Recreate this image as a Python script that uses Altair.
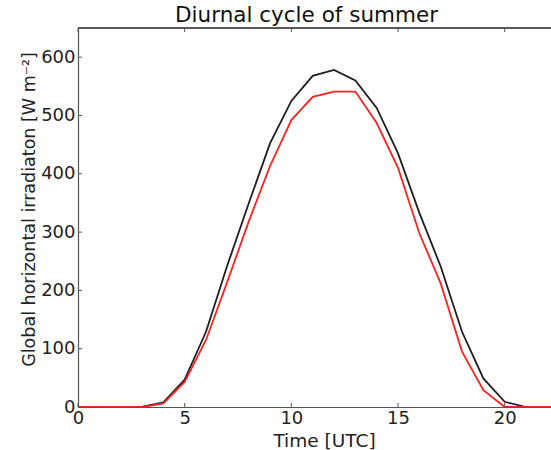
import altair as alt
import pandas as pd

# Hourly mean global horizontal irradiance for the summer diurnal cycle
hours = list(range(24))
series_a = [0, 0, 0, 0, 8, 47, 129, 243, 349, 452, 525, 568, 578, 560, 513, 435, 333, 241, 129, 49, 9, 0, 0, 0]
series_b = [0, 0, 0, 0, 6, 43, 115, 215, 318, 413, 492, 532, 541, 541, 487, 410, 298, 212, 95, 29, 0, 0, 0, 0]
series_names = ["a", "b"]
series_colors = ["#1e1e1e", "#ff2020"]

x_ticks = [0, 5, 10, 15, 20]
y_ticks = [0, 100, 200, 300, 400, 500, 600]

W, H = 473, 379
FONT = "DejaVu Sans"

df = pd.DataFrame({
    "hour": hours * 2,
    "ghi": series_a + series_b,
    "series": [series_names[0]] * len(hours) + [series_names[1]] * len(hours),
})

xscale = alt.Scale(domain=[0, 22.17], nice=False, zero=False)
yscale = alt.Scale(domain=[0, 650], nice=False)

lines = alt.Chart(df).mark_line(strokeWidth=1.8, clip=True).encode(
    x=alt.X("hour:Q", scale=xscale, axis=alt.Axis(
        values=x_ticks, ticks=False, grid=False, domainColor="#555", domainWidth=1.2,
        labelFont=FONT, labelFontSize=18, labelColor="#222", labelPadding=2,
        labelFlush=False, labelOverlap=False,
        title="Time [UTC]", titleFont=FONT, titleFontSize=18.5, titleFontWeight="normal",
        titleColor="#222", titleX=246, titleY=39, titleBaseline="alphabetic")),
    y=alt.Y("ghi:Q", scale=yscale, axis=alt.Axis(
        values=y_ticks, ticks=False, grid=False, domainColor="#555", domainWidth=1.2,
        labelFont=FONT, labelFontSize=18, labelColor="#222", labelPadding=3,
        labelFlush=False, labelOverlap=False,
        title="Global horizontal irradiaton [W m⁻²]", titleFont=FONT, titleFontSize=17.5,
        titleFontWeight="normal", titleColor="#222", titleX=-44, titleY=181,
        titleBaseline="alphabetic", titleAngle=-90)),
    color=alt.Color("series:N", scale=alt.Scale(domain=series_names, range=series_colors), legend=None),
    detail="series:N",
)

xt = pd.DataFrame({"t": x_ticks})
yt = pd.DataFrame({"v": y_ticks})

# inward tick marks on the bottom, top and left edges
tick_bottom = alt.Chart(xt).mark_rule(color="#555", strokeWidth=1).encode(
    x=alt.X("t:Q", scale=xscale), y=alt.value(H), y2=alt.value(H - 4))
tick_top = alt.Chart(xt).mark_rule(color="#555", strokeWidth=1).encode(
    x=alt.X("t:Q", scale=xscale), y=alt.value(0), y2=alt.value(4))
tick_left = alt.Chart(yt).mark_rule(color="#555", strokeWidth=1).encode(
    y=alt.Y("v:Q", scale=yscale), x=alt.value(0), x2=alt.value(4))

# top frame line
top_frame = alt.Chart(xt).mark_rule(color="#555", strokeWidth=1.2).encode(
    x=alt.value(0), x2=alt.value(W), y=alt.value(0))

chart = alt.layer(lines, tick_bottom, tick_top, tick_left, top_frame).properties(
    width=W, height=H,
    title=alt.TitleParams("Diurnal cycle of summer", font=FONT, fontSize=21.5,
                          fontWeight="normal", color="#111", anchor="middle",
                          dx=-8, offset=1),
    autosize=alt.AutoSizeParams(type="none"),
    padding={"left": 78, "top": 28, "right": 0, "bottom": 43},
).configure_view(stroke=None).configure(background="white")

chart.save("out.html", embed_options={"renderer": "svg", "actions": False})
